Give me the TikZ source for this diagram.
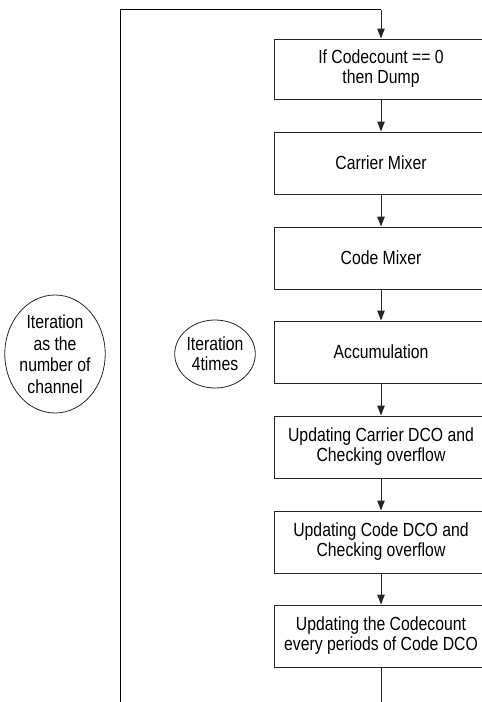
\documentclass[tikz,border=0pt]{standalone}
\usepackage{fontspec}
\setmainfont{Liberation Sans}[FakeStretch=0.83]
\usetikzlibrary{shapes.geometric,arrows.meta}
\begin{document}
\begin{tikzpicture}[x=1pt,y=-1pt,
  every node/.style={font=\fontsize{19}{20}\selectfont},
  stepbox/.style={draw=black!85,line width=1pt,minimum width=214pt,minimum height=62pt,inner sep=0pt,align=center},
  loopoval/.style={draw=black!85,line width=0.8pt,ellipse,inner sep=0pt,align=center},
  conn/.style={draw=black!85,line width=1pt,-{Triangle[length=10pt,width=7.5pt]}},
  line/.style={draw=black,line width=1.2pt}]
\useasboundingbox (0,0) rectangle (482,702);
\clip (0,0) rectangle (482,702);
\node[stepbox,minimum height=60pt] (b1) at (381,69) {If Codecount == 0\\then Dump};
\node[stepbox] (b2) at (381,163) {Carrier Mixer};
\node[stepbox] (b3) at (381,258) {Code Mixer};
\node[stepbox] (b4) at (381,352) {Accumulation};
\node[stepbox] (b5) at (381,447) {Updating Carrier DCO and\\Checking overflow};
\node[stepbox] (b6) at (381,542) {Updating Code DCO and\\Checking overflow};
\node[stepbox] (b7) at (381,636) {Updating the Codecount\\every periods of Code DCO};
\node[loopoval,minimum width=95pt,minimum height=118pt,font=\fontsize{19}{21.5}\selectfont] (e1) at (55,354) {Iteration\\as the\\number of\\channel};
\node[loopoval,minimum width=79pt,minimum height=68pt] (e2) at (215,354) {Iteration\\4times};
\coordinate (lb) at (120.5,710);
\coordinate (lt) at (120.5,9.5);
\coordinate (end) at (381,710);
\draw[line] (lb) -- (lt) -- (lt -| b1.north);
\draw[conn] (lt -| b1.north) -- (b1.north);
\draw[conn] (b1) -- (b2);
\draw[conn] (b2) -- (b3);
\draw[conn] (b3) -- (b4);
\draw[conn] (b4) -- (b5);
\draw[conn] (b5) -- (b6);
\draw[conn] (b6) -- (b7);
\draw[line,line width=1pt,draw=black!85] (b7) -- (end);
\end{tikzpicture}
\end{document}
